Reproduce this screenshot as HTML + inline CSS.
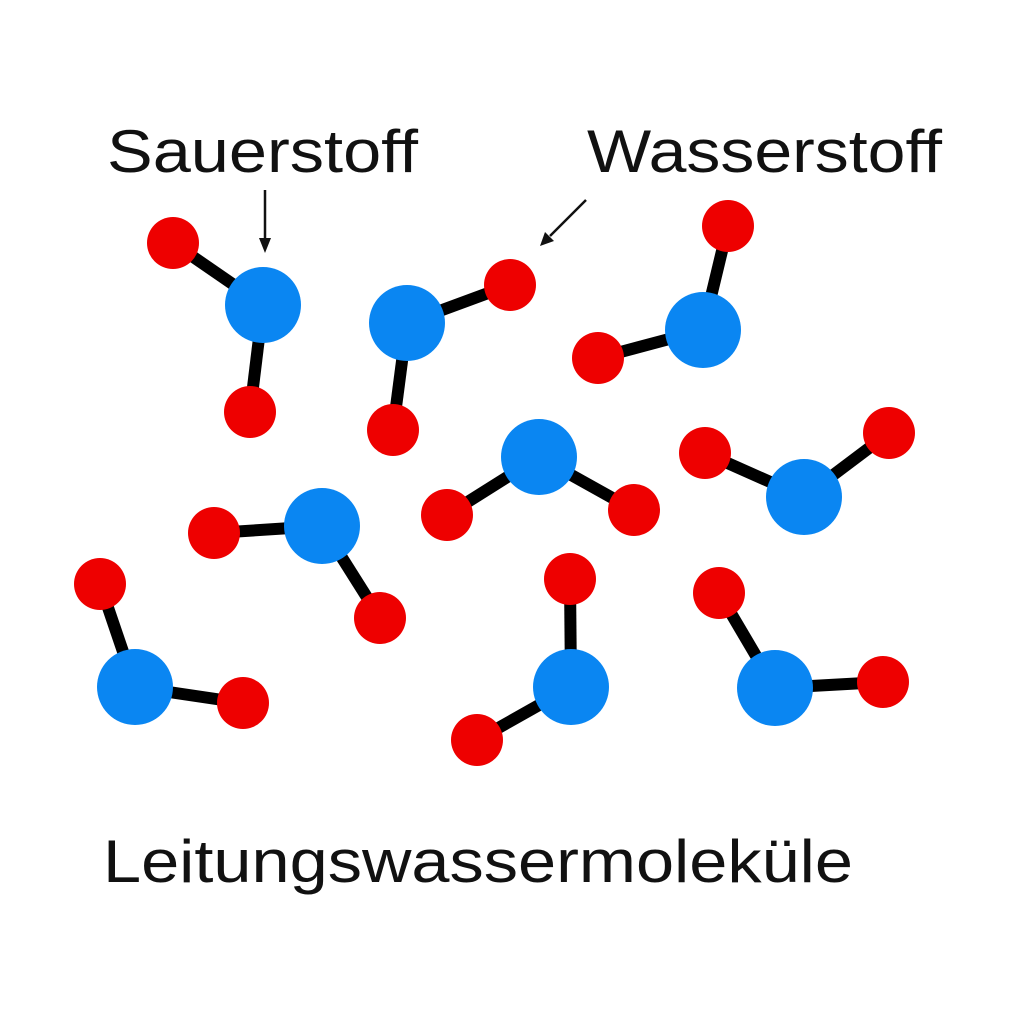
<!DOCTYPE html>
<html><head><meta charset="utf-8"><style>html,body{margin:0;padding:0;background:#fff}</style></head>
<body>
<svg width="1024" height="1024" viewBox="0 0 1024 1024" xmlns="http://www.w3.org/2000/svg">
<rect width="1024" height="1024" fill="#fff"/>
<g font-family="Liberation Sans, DejaVu Sans, sans-serif" font-size="60" fill="#111">
<text x="107" y="172" textLength="311" lengthAdjust="spacingAndGlyphs">Sauerstoff</text>
<text x="587" y="172" textLength="355" lengthAdjust="spacingAndGlyphs">Wasserstoff</text>
<text x="103" y="882" textLength="750" lengthAdjust="spacingAndGlyphs">Leitungswassermoleküle</text>
</g>
<g stroke="#111" stroke-width="2.5" fill="#111">
<line x1="265" y1="190" x2="265" y2="240"/>
<polygon points="259,238 271,238 265,253" stroke="none"/>
<line x1="586" y1="200" x2="550" y2="236"/>
<polygon points="545,232 554,241 540,246" stroke="none"/>
</g>
<g stroke="#000" stroke-width="12">
<line x1="263" y1="305" x2="173" y2="243"/><line x1="263" y1="305" x2="250" y2="412"/>
<line x1="407" y1="323" x2="510" y2="285"/><line x1="407" y1="323" x2="393" y2="430"/>
<line x1="703" y1="330" x2="728" y2="226"/><line x1="703" y1="330" x2="598" y2="358"/>
<line x1="539" y1="457" x2="447" y2="515"/><line x1="539" y1="457" x2="634" y2="510"/>
<line x1="804" y1="497" x2="705" y2="453"/><line x1="804" y1="497" x2="889" y2="433"/>
<line x1="322" y1="526" x2="214" y2="533"/><line x1="322" y1="526" x2="380" y2="618"/>
<line x1="135" y1="687" x2="100" y2="584"/><line x1="135" y1="687" x2="243" y2="703"/>
<line x1="571" y1="687" x2="570" y2="579"/><line x1="571" y1="687" x2="477" y2="740"/>
<line x1="775" y1="688" x2="719" y2="593"/><line x1="775" y1="688" x2="883" y2="682"/>
</g>
<g fill="#0a86f2">
<circle cx="263" cy="305" r="38"/><circle cx="407" cy="323" r="38"/><circle cx="703" cy="330" r="38"/>
<circle cx="539" cy="457" r="38"/><circle cx="804" cy="497" r="38"/><circle cx="322" cy="526" r="38"/>
<circle cx="135" cy="687" r="38"/><circle cx="571" cy="687" r="38"/><circle cx="775" cy="688" r="38"/>
</g>
<g fill="#ee0000">
<circle cx="173" cy="243" r="26"/><circle cx="250" cy="412" r="26"/>
<circle cx="510" cy="285" r="26"/><circle cx="393" cy="430" r="26"/>
<circle cx="728" cy="226" r="26"/><circle cx="598" cy="358" r="26"/>
<circle cx="447" cy="515" r="26"/><circle cx="634" cy="510" r="26"/>
<circle cx="705" cy="453" r="26"/><circle cx="889" cy="433" r="26"/>
<circle cx="214" cy="533" r="26"/><circle cx="380" cy="618" r="26"/>
<circle cx="100" cy="584" r="26"/><circle cx="243" cy="703" r="26"/>
<circle cx="570" cy="579" r="26"/><circle cx="477" cy="740" r="26"/>
<circle cx="719" cy="593" r="26"/><circle cx="883" cy="682" r="26"/>
</g>
</svg>
</body></html>
